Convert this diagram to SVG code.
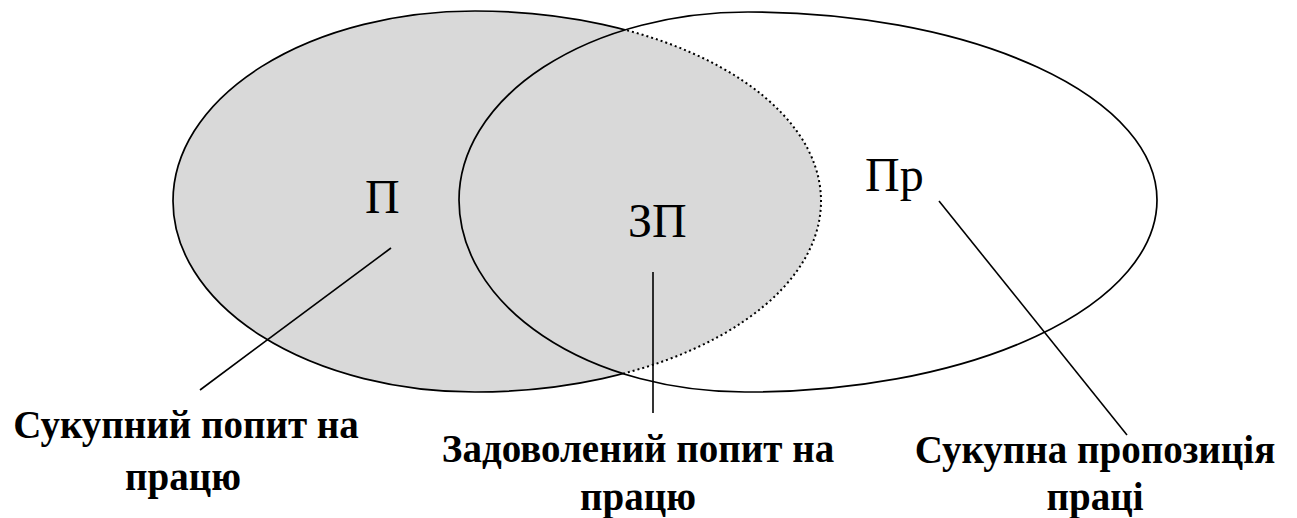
<svg xmlns="http://www.w3.org/2000/svg" width="1297" height="518" viewBox="0 0 1297 518">
<style>
.edge{fill:none;stroke:#000;stroke-width:1.7}
.dot{fill:none;stroke:#000;stroke-width:2;stroke-dasharray:2 3}
.lbl{font-family:"Liberation Serif","Times New Roman",serif;font-size:48px;fill:#000}
.cap{font-family:"Liberation Serif","Times New Roman",serif;font-size:39px;font-weight:bold;fill:#000;text-anchor:middle}
.lead{fill:none;stroke:#000;stroke-width:1.6}
</style>
<defs>
<path id="leftShape" d="M173,201 A302,190 0 0 1 475,11 A346,190 0 0 1 821,201 A346,191 0 0 1 475,392 A302,191 0 0 1 173,201 Z"/>
<path id="rightShape" d="M459,200 A289,188 0 0 1 748,12 A409,188 0 0 1 1157,200 A409,192 0 0 1 745,392 A286,192 0 0 1 459,200 Z"/>
<clipPath id="insideRight"><use href="#rightShape"/></clipPath>
<clipPath id="outsideRight"><path clip-rule="evenodd" d="M0,0 H1297 V518 H0 Z M459,200 A289,188 0 0 1 748,12 A409,188 0 0 1 1157,200 A409,192 0 0 1 745,392 A286,192 0 0 1 459,200 Z"/></clipPath>
</defs>
<g id="node-demand">
<use href="#leftShape" fill="#d9d9d9" stroke="none"/>
<use href="#leftShape" class="edge" clip-path="url(#outsideRight)"/>
<use href="#leftShape" class="dot" clip-path="url(#insideRight)"/>
<text class="lbl" x="365" y="213">П</text>
</g>
<g id="node-supply">
<use href="#rightShape" class="edge"/>
<text class="lbl" x="865" y="191">Пр</text>
</g>
<g id="node-satisfied">
<text class="lbl" x="628" y="237">ЗП</text>
</g>
<g id="connectors">
<line class="lead" x1="391" y1="248" x2="200" y2="390"/>
<line class="lead" x1="653" y1="272" x2="653" y2="413"/>
<line class="lead" x1="939" y1="201" x2="1127" y2="435"/>
</g>
<g id="label-demand">
<text class="cap" x="186" y="438">Сукупний попит  на</text>
<text class="cap" x="183" y="490">працю</text>
</g>
<g id="label-satisfied">
<text class="cap" x="638" y="462">Задоволений попит на</text>
<text class="cap" x="638" y="510">працю</text>
</g>
<g id="label-supply">
<text class="cap" x="1095" y="463">Сукупна пропозиція</text>
<text class="cap" x="1095" y="510">праці</text>
</g>
</svg>
